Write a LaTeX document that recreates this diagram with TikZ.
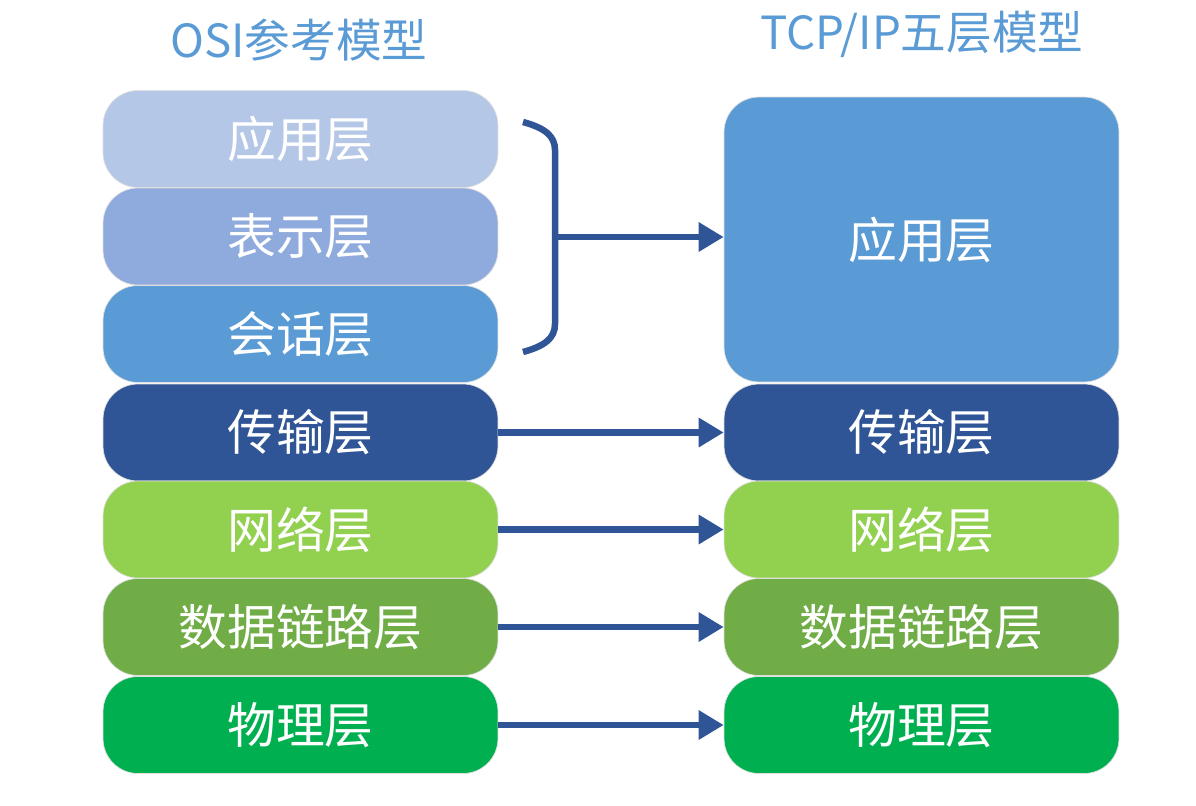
\documentclass[tikz,border=0pt]{standalone}
\usepackage{fontspec}
\setmainfont{Noto Sans CJK SC}
\usetikzlibrary{arrows.meta}

\definecolor{titleblue}{HTML}{5B9BD5}
\definecolor{linkblue}{HTML}{2F5597}
\definecolor{appc}{HTML}{B4C7E7}
\definecolor{prec}{HTML}{8FAADC}
\definecolor{sesc}{HTML}{5B9BD5}
\definecolor{trac}{HTML}{2F5597}
\definecolor{netc}{HTML}{92D050}
\definecolor{linc}{HTML}{70AD47}
\definecolor{phyc}{HTML}{00B050}

\tikzset{
  layer/.style={rounded corners=0.7cm, minimum width=7.9cm, minimum height=1.94cm,
    inner sep=0pt, text=white, draw=gray!25, line width=0.4pt,
    font=\fontsize{27.8}{32}\selectfont},
  heading/.style={text=titleblue, font=\fontsize{26}{30}\selectfont},
  link/.style={draw=linkblue, line width=0.13cm, -{Triangle[length=0.5cm,width=0.56cm]}}
}

\begin{document}
\begin{tikzpicture}[x=0.02cm, y=-0.02cm]
  \useasboundingbox (0,0) rectangle (1196,805);

  % titles
  \node[heading] (osititle) at (299,40) {OSI参考模型};
  \node[heading] (tcptitle) at (922,34) {TCP/IP五层模型};

  % OSI seven layers
  \foreach \n/\y/\c/\t in {app/139/appc/应用层, pre/236.5/prec/表示层, ses/334/sesc/会话层,
      tra/432.5/trac/传输层, net/529.5/netc/网络层, lin/627/linc/数据链路层, phy/725/phyc/物理层}
    \node[layer, fill=\c] (osi-\n) at (300.5,\y) {\t};

  % TCP/IP five layers
  \node[layer, fill=sesc, minimum height=5.7cm] (tcp-app) at (921.5,239.5) {应用层};
  \foreach \n/\y/\c/\t in {tra/432.5/trac/传输层, net/529.5/netc/网络层,
      lin/627/linc/数据链路层, phy/725/phyc/物理层}
    \node[layer, fill=\c] (tcp-\n) at (921.5,\y) {\t};

  % brace over the upper three layers
  \draw[linkblue, line width=0.13cm]
    (523,122) .. controls (545,128) and (555,136) .. (555,150)
    -- (555,324) .. controls (555,338) and (545,346) .. (523,352);
  \coordinate (bmid) at (553,237);
  \draw[link] (bmid) -- (tcp-app.west |- bmid);

  % one-to-one links
  \foreach \n in {tra, net, lin, phy}
    \draw[link] (osi-\n.east) -- (tcp-\n.west);
\end{tikzpicture}
\end{document}
